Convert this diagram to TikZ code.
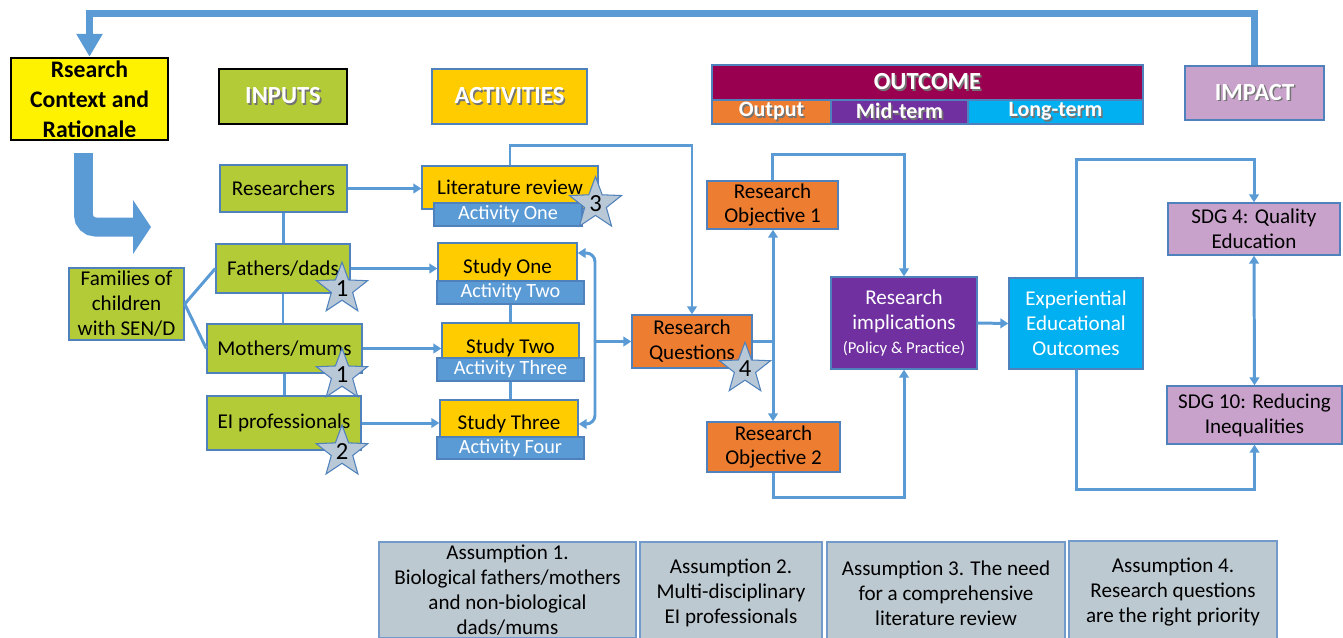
\documentclass[tikz,border=0pt]{standalone}
\usepackage{fontspec}
\setmainfont{Carlito}
\usetikzlibrary{arrows.meta,shapes.geometric}
\definecolor{lnblue}{HTML}{5B9BD5}
\definecolor{bdblue}{HTML}{4F81BD}
\definecolor{ingreen}{HTML}{B3CB36}
\definecolor{actgold}{HTML}{FFCC00}
\definecolor{outorange}{HTML}{ED7D31}
\definecolor{midpurple}{HTML}{7030A0}
\definecolor{longcyan}{HTML}{00B0F0}
\definecolor{outmagenta}{HTML}{990050}
\definecolor{impmauve}{HTML}{C8A2CB}
\definecolor{stargrey}{HTML}{B8C8D6}
\definecolor{asmgrey}{HTML}{BDC9D1}
\colorlet{ctxyellow}{yellow}
\newcommand{\shadowed}[1]{\makebox[0pt][l]{\kern0.9pt\raisebox{-0.9pt}{\color{black!55}#1}}#1}
\tikzset{
  sz/.style 2 args={minimum width=#1*0.02cm,minimum height=#2*0.02cm},
  box/.style={draw=bdblue,line width=0.8pt,inner sep=0pt,align=center,font=\fontsize{12}{14.2}\selectfont},
  ctxbox/.style={box,fill=ctxyellow,draw=black,line width=1.4pt,font=\fontsize{13.5}{17}\selectfont\bfseries},
  hdr/.style={box,text=white,font=\fontsize{14}{16}\selectfont\bfseries},
  subhdr/.style={box,text=white,font=\fontsize{12.5}{14}\selectfont\bfseries},
  inbox/.style={box,fill=ingreen},
  actbox/.style={box,fill=actgold},
  actbar/.style={box,fill=lnblue,text=white,font=\fontsize{11.5}{13}\selectfont},
  outbox/.style={box,fill=outorange},
  sdgbox/.style={box,fill=impmauve},
  asmbox/.style={box,fill=asmgrey,draw=bdblue!80},
  numstar/.style={shape=star,star points=5,star point ratio=2.4,minimum size=0.88cm,inner sep=0pt,
    fill=stargrey,draw=bdblue,line width=0.6pt,font=\fontsize{14}{14}\selectfont},
  conn/.style={draw=lnblue,line width=1.7pt},
  arr/.style={conn,-{Triangle[width=5.5pt,length=4.5pt]}},
  dblarr/.style={conn,{Triangle[width=5.5pt,length=4.5pt]}-{Triangle[width=5.5pt,length=4.5pt]}},
  bigarr/.style={draw=lnblue,line width=0.14cm,-{Triangle[width=0.5cm,length=0.46cm]}}
}

\begin{document}
\begin{tikzpicture}[x=0.02cm,y=-0.02cm]
\useasboundingbox (0,0) rectangle (1343,637);

\node[ctxbox,sz={157}{82}] (ctx) at (89.5,99) {Rsearch\\Context and\\Rationale};
\node[hdr,fill=ingreen,draw=black,line width=1.4pt,sz={128}{55}] (inputs) at (283,96.5) {\shadowed{INPUTS}};
\node[hdr,fill=actgold,line width=1.2pt,sz={155}{55}] (activities) at (509.5,96.5) {\shadowed{ACTIVITIES}};
\node[hdr,fill=outmagenta,sz={431}{35}] (outcome) at (927.5,82.5) {\shadowed{OUTCOME}};
\node[subhdr,fill=outorange,sz={119}{24}] (output) at (771.5,112) {\shadowed{Output}};
\node[subhdr,fill=midpurple,sz={137}{24}] (midterm) at (899.5,112) {\shadowed{Mid-term}};
\node[subhdr,fill=longcyan,sz={175}{24}] (longterm) at (1055.5,112) {\shadowed{Long-term}};
\node[hdr,fill=impmauve,line width=1.2pt,sz={139}{54}] (impact) at (1254.5,93) {\shadowed{IMPACT}};

\draw[bigarr] (impact.north) -- ++(0,-51) -| (ctx.north);
\draw[draw=lnblue,line width=0.38cm,rounded corners=0.24cm] (83.5,153) -- (83.5,227) -- (134,227);
\fill[lnblue] (133,200) -- (151,227) -- (133,254) -- cycle;

\node[inbox,sz={115}{72}] (families) at (126.5,304) {Families of\\children\\with SEN/D};
\node[inbox,sz={127}{47}] (researchers) at (283.5,188.5) {Researchers};
\node[inbox,sz={134}{49}] (fathers) at (283,268.5) {Fathers/dads};
\node[inbox,sz={155}{49}] (mothers) at (284.5,348.5) {Mothers/mums};
\node[inbox,sz={154}{54}] (eiprof) at (284,423) {EI professionals};

\node[actbox,sz={176}{43}] (litrev) at (510,187.5) {Literature review};
\node[actbar,sz={148}{23}] (actone) at (508,214.5) {Activity One};
\node[actbox,sz={139}{50}] (studyone) at (507.5,268) {Study One};
\node[actbar,sz={147}{23}] (acttwo) at (510.5,292.5) {Activity Two};
\node[actbox,sz={137}{50}] (studytwo) at (510.5,348) {Study Two};
\node[actbar,sz={147}{23}] (actthree) at (510.5,369.5) {Activity Three};
\node[actbox,sz={138}{48}] (studythree) at (509,424) {Study Three};
\node[actbar,sz={147}{22}] (actfour) at (510.5,448) {Activity Four};

\node[outbox,sz={120}{53}] (rq) at (692,341.5) {Research\\Questions};
\node[outbox,sz={131}{48}] (obj1) at (772.5,205) {Research\\Objective 1};
\node[outbox,sz={133}{50}] (obj2) at (773.5,447) {Research\\Objective 2};
\node[box,fill=midpurple,text=white,sz={146}{92}] (impl) at (904,323)
  {Research\\implications\\[-1pt]{\fontsize{9.5}{12}\selectfont(Policy \& Practice)}};
\node[box,fill=longcyan,text=white,sz={134}{91}] (exp) at (1076,323.5) {Experiential\\Educational\\Outcomes};
\node[sdgbox,sz={172}{52}] (sdg4) at (1254,229) {SDG 4: Quality\\Education};
\node[sdgbox,sz={175}{58}] (sdg10) at (1254.5,415) {SDG 10: Reducing\\Inequalities};

\node[asmbox,sz={257}{96}] (asm1) at (507.5,590) {Assumption 1.\\Biological fathers/mothers\\and non-biological\\dads/mums};
\node[asmbox,sz={182}{102}] (asm2) at (731,593) {Assumption 2.\\Multi-disciplinary\\EI professionals};
\node[asmbox,sz={238}{102}] (asm3) at (946,593) {Assumption 3. The need\\for a comprehensive\\literature review};
\node[asmbox,sz={208}{102}] (asm4) at (1173,592) {Assumption 4.\\Research questions\\are the right priority};

\draw[conn] (families.east) -- (fathers.west);
\draw[conn] (families.east) -- (mothers.west);
\draw[conn] (researchers.south) -- (researchers.south |- fathers.north);
\draw[conn] (fathers.south) -- (fathers.south |- mothers.north);
\draw[conn] (mothers.south) -- (mothers.south |- eiprof.north);
\draw[arr] (researchers.east) -- (researchers.east -| litrev.west);
\draw[arr] (fathers.east) -- (fathers.east -| studyone.west);
\draw[arr] (mothers.east) -- (mothers.east -| studytwo.west);
\draw[arr] (eiprof.east) -- (eiprof.east -| studythree.west);
\draw[conn] (acttwo.south) -- (acttwo.south |- studytwo.north);
\draw[conn] (actthree.south) -- (actthree.south |- studythree.north);

\coordinate (brace) at (595,341.5);
\draw[dblarr,rounded corners=5pt] ([yshift=0.3cm]studyone.east) -| (brace) |- (studythree.east);
\draw[arr] (brace) -- (rq.west);
\draw[arr] (litrev.north) -- ++(0,-20) -| (rq.north);

\coordinate (rqj) at (773,341.5);
\draw[conn] (rq.east) -- (rqj);
\draw[arr] (rqj) -- (rqj |- obj1.south);
\draw[arr] (rqj) -- (rqj |- obj2.north);
\draw[arr] (obj1.north) -- ++(0,-26) -| (impl.north);
\draw[arr] (obj2.south) -- ++(0,25) -| (impl.south);
\draw[arr] (impl.east) -- (exp.west);
\draw[arr] (exp.north) -- ++(0,-118) -| (sdg4.north);
\draw[arr] (exp.south) -- ++(0,120) -| (sdg10.south);
\draw[dblarr] (sdg4.south) -- (sdg10.north);

\node[numstar] (st1) at (342,289) {1};
\node[numstar] (st2) at (342,375) {1};
\node[numstar] (st3) at (342,452) {2};
\node[numstar] (st4) at (595.5,204) {3};
\node[numstar] (st5) at (745,369) {4};
\end{tikzpicture}
\end{document}
